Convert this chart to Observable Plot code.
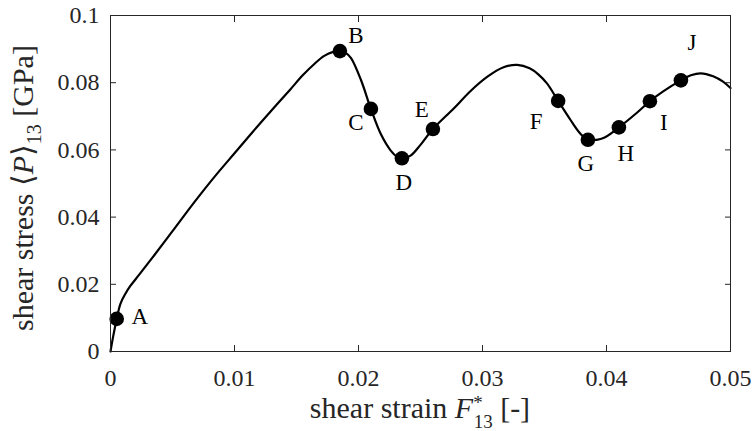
<!DOCTYPE html>
<html>
<head>
<meta charset="utf-8">
<script src="https://cdn.jsdelivr.net/npm/d3@7"></script>
<script src="https://cdn.jsdelivr.net/npm/@observablehq/plot@0.6"></script>
<style>
  body { margin: 0; background: #fff; }
</style>
</head>
<body>
<div id="chart"></div>
<script>
// Stress–strain response under simple shear
const curveStrain = [
  0, 0.0002, 0.0005, 0.0008, 0.0012, 0.0016, 0.0023, 0.0035, 0.0050, 0.0065,
  0.0073, 0.0085, 0.0100, 0.0115, 0.0130, 0.0145, 0.0155, 0.0165, 0.0172, 0.0179,
  0.0185, 0.0190, 0.0194, 0.0202, 0.0210, 0.0218, 0.0226, 0.0231, 0.0235, 0.0242,
  0.0250, 0.0260, 0.0277, 0.0290, 0.0304, 0.0317, 0.0328, 0.0338, 0.0345, 0.0352,
  0.0361, 0.0371, 0.0379, 0.0385, 0.0392, 0.0398, 0.0410, 0.0425, 0.0435, 0.0446,
  0.0460, 0.0468, 0.0476, 0.0486, 0.0494, 0.0500
];
const curveStress = [
  0, 0.0042, 0.0097, 0.0142, 0.0172, 0.0195, 0.0228, 0.0285, 0.0358, 0.0432,
  0.0470, 0.0525, 0.0590, 0.0655, 0.0718, 0.0780, 0.0822, 0.0858, 0.0879, 0.0891,
  0.0894, 0.0888, 0.0873, 0.0808, 0.0722, 0.0647, 0.0598, 0.0580, 0.0575, 0.0583,
  0.0615, 0.0662, 0.0724, 0.0774, 0.0818, 0.0846, 0.0853, 0.0843, 0.0825, 0.0798,
  0.0746, 0.0689, 0.0648, 0.0630, 0.0630, 0.0636, 0.0667, 0.0712, 0.0745, 0.0775,
  0.0807, 0.0822, 0.0828, 0.0819, 0.0803, 0.0784
];

// Marked states along the curve
const pointNames  = ["A", "B", "C", "D", "E", "F", "G", "H", "I", "J"];
const pointStrain = [0.0005, 0.0185, 0.0210, 0.0235, 0.0260, 0.0361, 0.0385, 0.0410, 0.0435, 0.0460];
const pointStress = [0.0097, 0.0894, 0.0722, 0.0575, 0.0662, 0.0746, 0.0630, 0.0667, 0.0745, 0.0807];

// Axis ticks
const xTickValues = [0, 0.01, 0.02, 0.03, 0.04, 0.05];
const xTickLabels = ["0", "0.01", "0.02", "0.03", "0.04", "0.05"];
const yTickValues = [0, 0.02, 0.04, 0.06, 0.08, 0.1];
const yTickLabels = ["0", "0.02", "0.04", "0.06", "0.08", "0.1"];

// Label placement relative to each marker (pixels)
const labelOffset = {
  A: [23, -2], B: [16, -15], C: [-15, 14], D: [2, 24], E: [-11, -19],
  F: [-22, 21], G: [-2, 24], H: [7, 26], I: [14, 21], J: [11, -38]
};

const curve = curveStrain.map((x, i) => ({x, y: curveStress[i]}));
const points = pointNames.map((name, i) => ({name, x: pointStrain[i], y: pointStress[i]}));

const W = 756, H = 431, mL = 110, mR = 26, mT = 15, mB = 80;
const serif = "'Liberation Serif', 'Times New Roman', 'DejaVu Serif', serif";
const ink = "#262626";

const labelMarks = points.map(p => Plot.text([p], {
  x: "x", y: "y", text: "name",
  dx: labelOffset[p.name][0], dy: labelOffset[p.name][1],
  fontSize: 23, fill: "black", textAnchor: "middle", lineAnchor: "middle"
}));

const chart = Plot.plot({
  width: W, height: H,
  marginLeft: mL, marginRight: mR, marginTop: mT, marginBottom: mB,
  style: {fontFamily: serif, fontSize: "24px", color: ink, background: "#fff"},
  x: {domain: [0, 0.05], label: null},
  y: {domain: [0, 0.1], label: null},
  marks: [
    Plot.line(curve, {x: "x", y: "y", curve: "catmull-rom", stroke: "black", strokeWidth: 2.2}),
    Plot.dot(points, {x: "x", y: "y", r: 7.3, fill: "black"}),
    ...labelMarks,
    Plot.frame({stroke: ink, strokeWidth: 1}),
    Plot.axisX({anchor: "bottom", ticks: xTickValues, tickSize: -6, tickPadding: 23,
      tickFormat: d => xTickLabels[xTickValues.indexOf(d)], label: null, fill: ink, stroke: ink}),
    Plot.axisX({anchor: "top", ticks: xTickValues, tickSize: -6, tickFormat: () => "", label: null, stroke: ink}),
    Plot.axisY({anchor: "left", ticks: yTickValues, tickSize: -6, tickPadding: 17,
      tickFormat: d => yTickLabels[yTickValues.indexOf(d)], label: null, fill: ink, stroke: ink}),
    Plot.axisY({anchor: "right", ticks: yTickValues, tickSize: -6, tickFormat: () => "", label: null, stroke: ink})
  ]
});

document.getElementById("chart").appendChild(chart);

// Axis titles with sub/superscripts
const svg = d3.select(chart);

const xt = svg.append("text")
  .attr("x", mL + (W - mL - mR) / 2).attr("y", 418)
  .attr("text-anchor", "middle").attr("font-family", serif)
  .attr("font-size", 30).attr("fill", ink);
xt.append("tspan").text("shear strain ");
xt.append("tspan").attr("font-style", "italic").text("F");
xt.append("tspan").attr("font-size", 19).attr("dy", -9).text("*");
xt.append("tspan").attr("font-size", 19).attr("dx", -9).attr("dy", 19).text("13");
xt.append("tspan").attr("dy", -10).text(" [-]");

const yt = svg.append("text")
  .attr("transform", `translate(33,${mT + (H - mT - mB) / 2 + 5}) rotate(-90)`)
  .attr("text-anchor", "middle").attr("font-family", serif)
  .attr("font-size", 30).attr("fill", ink);
yt.append("tspan").text("shear stress \u27E8");
yt.append("tspan").attr("font-style", "italic").text("P");
yt.append("tspan").text("\u27E9");
yt.append("tspan").attr("font-size", 20).attr("dy", 8).text("13");
yt.append("tspan").attr("dy", -8).text(" [GPa]");
</script>
</body>
</html>
